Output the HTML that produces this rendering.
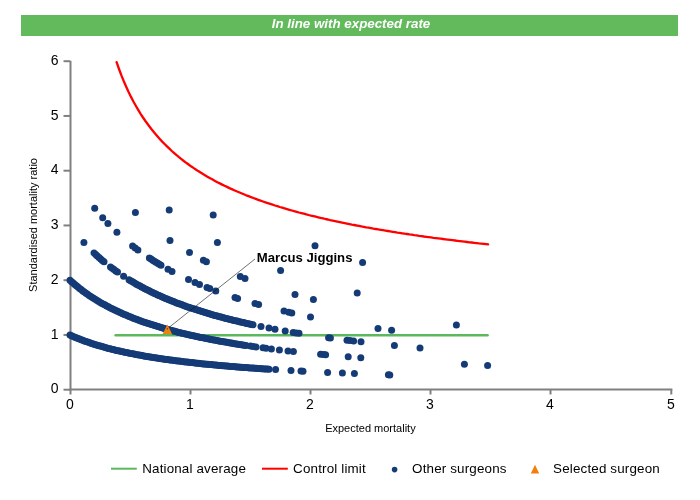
<!DOCTYPE html>
<html><head><meta charset="utf-8"><title>Funnel plot</title>
<style>
html,body{margin:0;padding:0;background:#fff;}
body{width:700px;height:500px;overflow:hidden;position:relative;font-family:"Liberation Sans",Arial,sans-serif;}
.banner{position:absolute;left:21px;top:15px;width:657px;height:21px;background:#62ba5c;color:#fff;font-weight:bold;font-style:italic;font-size:13.33px;line-height:18px;text-align:center;padding-left:3px;box-sizing:border-box;}
svg{position:absolute;left:0;top:0;}
svg text{font-family:"Liberation Sans",Arial,sans-serif;}
</style></head><body>
<div class="banner">In line with expected rate</div>
<svg width="700" height="500" viewBox="0 0 700 500">
<g stroke="#808080" stroke-width="2" fill="none"><path d="M70.5 60.7V390.3"/><path d="M69.5 389.5H672.3"/></g>
<g stroke="#808080" stroke-width="2" fill="none"><path d="M63.5 389.70H70"/><path d="M63.5 334.95H70"/><path d="M63.5 280.20H70"/><path d="M63.5 225.45H70"/><path d="M63.5 170.70H70"/><path d="M63.5 115.95H70"/><path d="M63.5 61.20H70"/><path d="M70.5 389V394.5"/><path d="M190.5 389V394.5"/><path d="M310.5 389V394.5"/><path d="M430.5 389V394.5"/><path d="M550.5 389V394.5"/><path d="M671.3 389V394.5"/></g>
<g font-size="14" fill="#000"><text x="58.5" y="393.3" text-anchor="end">0</text><text x="58.5" y="338.6" text-anchor="end">1</text><text x="58.5" y="283.8" text-anchor="end">2</text><text x="58.5" y="229.1" text-anchor="end">3</text><text x="58.5" y="174.3" text-anchor="end">4</text><text x="58.5" y="119.5" text-anchor="end">5</text><text x="58.5" y="64.8" text-anchor="end">6</text><text x="70.0" y="409" text-anchor="middle">0</text><text x="190.0" y="409" text-anchor="middle">1</text><text x="310.0" y="409" text-anchor="middle">2</text><text x="430.0" y="409" text-anchor="middle">3</text><text x="550.0" y="409" text-anchor="middle">4</text><text x="670.8" y="409" text-anchor="middle">5</text></g>
<text x="370.4" y="431.5" font-size="11" fill="#000" text-anchor="middle">Expected mortality</text>
<text transform="translate(36.6,225) rotate(-90)" font-size="11" fill="#000" text-anchor="middle">Standardised mortality ratio</text>
<path d="M115.6 335.2H487.6" stroke="#5cb85c" stroke-width="2.4" stroke-linecap="round" fill="none"/>
<path d="M116.6 62.2 L119.0 69.0 L121.4 75.4 L123.8 81.3 L126.2 86.8 L128.6 92.0 L131.0 96.9 L133.4 101.5 L135.8 105.8 L138.2 109.9 L140.6 113.8 L143.0 117.5 L145.4 121.0 L147.8 124.3 L150.2 127.5 L152.6 130.6 L155.0 133.5 L157.4 136.3 L159.8 139.0 L162.2 141.6 L164.6 144.0 L167.0 146.4 L169.4 148.7 L171.8 151.0 L174.2 153.1 L176.6 155.2 L179.0 157.2 L181.4 159.1 L183.8 161.0 L186.2 162.8 L188.6 164.5 L191.0 166.3 L193.4 167.9 L195.8 169.5 L198.2 171.1 L200.6 172.6 L203.0 174.1 L205.4 175.5 L207.8 176.9 L210.2 178.3 L212.6 179.6 L215.0 180.9 L217.4 182.2 L219.8 183.4 L222.2 184.6 L224.6 185.8 L227.0 186.9 L229.4 188.1 L231.8 189.1 L234.2 190.2 L236.6 191.3 L239.0 192.3 L241.4 193.3 L243.8 194.3 L246.2 195.3 L248.6 196.2 L251.0 197.1 L253.4 198.0 L255.8 198.9 L258.2 199.8 L260.6 200.7 L263.0 201.5 L265.4 202.3 L267.8 203.1 L270.2 203.9 L272.6 204.7 L275.0 205.5 L277.4 206.2 L279.8 207.0 L282.2 207.7 L284.6 208.4 L287.0 209.1 L289.4 209.8 L291.8 210.5 L294.2 211.2 L296.6 211.8 L299.0 212.5 L301.4 213.1 L303.8 213.7 L306.2 214.3 L308.6 215.0 L311.0 215.6 L313.4 216.1 L315.8 216.7 L318.2 217.3 L320.6 217.9 L323.0 218.4 L325.4 219.0 L327.8 219.5 L330.2 220.1 L332.6 220.6 L335.0 221.1 L337.4 221.6 L339.8 222.1 L342.2 222.6 L344.6 223.1 L347.0 223.6 L349.4 224.1 L351.8 224.6 L354.2 225.0 L356.6 225.5 L359.0 225.9 L361.4 226.4 L363.8 226.8 L366.2 227.3 L368.6 227.7 L371.0 228.1 L373.4 228.6 L375.8 229.0 L378.2 229.4 L380.6 229.8 L383.0 230.2 L385.4 230.6 L387.8 231.0 L390.2 231.4 L392.6 231.8 L395.0 232.2 L397.4 232.6 L399.8 232.9 L402.2 233.3 L404.6 233.7 L407.0 234.0 L409.4 234.4 L411.8 234.7 L414.2 235.1 L416.6 235.4 L419.0 235.8 L421.4 236.1 L423.8 236.5 L426.2 236.8 L428.6 237.1 L431.0 237.4 L433.4 237.8 L435.8 238.1 L438.2 238.4 L440.6 238.7 L443.0 239.0 L445.4 239.3 L447.8 239.6 L450.2 239.9 L452.6 240.2 L455.0 240.5 L457.4 240.8 L459.8 241.1 L462.2 241.4 L464.6 241.7 L467.0 242.0 L469.4 242.3 L471.8 242.5 L474.2 242.8 L476.6 243.1 L479.0 243.4 L481.4 243.6 L483.8 243.9 L486.2 244.2 L488.1 244.4" stroke="#ff0000" stroke-width="2.3" stroke-linecap="round" stroke-linejoin="round" fill="none"/>
<g fill="#153b77"><circle cx="70.0" cy="335.1" r="3.5"/><circle cx="71.6" cy="335.8" r="3.5"/><circle cx="73.2" cy="336.5" r="3.5"/><circle cx="74.8" cy="337.2" r="3.5"/><circle cx="76.4" cy="337.8" r="3.5"/><circle cx="78.0" cy="338.5" r="3.5"/><circle cx="79.6" cy="339.1" r="3.5"/><circle cx="81.2" cy="339.7" r="3.5"/><circle cx="82.8" cy="340.3" r="3.5"/><circle cx="84.4" cy="340.9" r="3.5"/><circle cx="86.0" cy="341.5" r="3.5"/><circle cx="87.7" cy="342.1" r="3.5"/><circle cx="89.3" cy="342.6" r="3.5"/><circle cx="90.9" cy="343.2" r="3.5"/><circle cx="92.5" cy="343.7" r="3.5"/><circle cx="94.1" cy="344.2" r="3.5"/><circle cx="95.7" cy="344.7" r="3.5"/><circle cx="97.3" cy="345.2" r="3.5"/><circle cx="98.9" cy="345.7" r="3.5"/><circle cx="100.5" cy="346.1" r="3.5"/><circle cx="102.1" cy="346.6" r="3.5"/><circle cx="103.7" cy="347.1" r="3.5"/><circle cx="105.3" cy="347.5" r="3.5"/><circle cx="106.9" cy="347.9" r="3.5"/><circle cx="108.5" cy="348.4" r="3.5"/><circle cx="110.1" cy="348.8" r="3.5"/><circle cx="111.7" cy="349.2" r="3.5"/><circle cx="113.3" cy="349.6" r="3.5"/><circle cx="114.9" cy="350.0" r="3.5"/><circle cx="116.5" cy="350.4" r="3.5"/><circle cx="118.1" cy="350.7" r="3.5"/><circle cx="119.8" cy="351.1" r="3.5"/><circle cx="121.4" cy="351.5" r="3.5"/><circle cx="123.0" cy="351.8" r="3.5"/><circle cx="124.6" cy="352.2" r="3.5"/><circle cx="126.2" cy="352.5" r="3.5"/><circle cx="127.8" cy="352.8" r="3.5"/><circle cx="129.4" cy="353.2" r="3.5"/><circle cx="131.0" cy="353.5" r="3.5"/><circle cx="132.6" cy="353.8" r="3.5"/><circle cx="134.2" cy="354.1" r="3.5"/><circle cx="135.8" cy="354.4" r="3.5"/><circle cx="137.4" cy="354.7" r="3.5"/><circle cx="139.0" cy="355.0" r="3.5"/><circle cx="140.6" cy="355.3" r="3.5"/><circle cx="142.2" cy="355.6" r="3.5"/><circle cx="143.8" cy="355.9" r="3.5"/><circle cx="145.4" cy="356.2" r="3.5"/><circle cx="147.0" cy="356.5" r="3.5"/><circle cx="148.6" cy="356.7" r="3.5"/><circle cx="150.2" cy="357.0" r="3.5"/><circle cx="151.8" cy="357.3" r="3.5"/><circle cx="153.5" cy="357.5" r="3.5"/><circle cx="155.1" cy="357.8" r="3.5"/><circle cx="156.7" cy="358.0" r="3.5"/><circle cx="158.3" cy="358.3" r="3.5"/><circle cx="159.9" cy="358.5" r="3.5"/><circle cx="161.5" cy="358.7" r="3.5"/><circle cx="163.1" cy="359.0" r="3.5"/><circle cx="164.7" cy="359.2" r="3.5"/><circle cx="166.3" cy="359.4" r="3.5"/><circle cx="167.9" cy="359.6" r="3.5"/><circle cx="169.5" cy="359.9" r="3.5"/><circle cx="171.1" cy="360.1" r="3.5"/><circle cx="172.7" cy="360.3" r="3.5"/><circle cx="174.3" cy="360.5" r="3.5"/><circle cx="175.9" cy="360.7" r="3.5"/><circle cx="177.5" cy="360.9" r="3.5"/><circle cx="179.1" cy="361.1" r="3.5"/><circle cx="180.7" cy="361.3" r="3.5"/><circle cx="182.3" cy="361.5" r="3.5"/><circle cx="183.9" cy="361.7" r="3.5"/><circle cx="185.5" cy="361.9" r="3.5"/><circle cx="187.2" cy="362.1" r="3.5"/><circle cx="188.8" cy="362.3" r="3.5"/><circle cx="190.4" cy="362.5" r="3.5"/><circle cx="192.0" cy="362.6" r="3.5"/><circle cx="193.6" cy="362.8" r="3.5"/><circle cx="195.2" cy="363.0" r="3.5"/><circle cx="196.8" cy="363.2" r="3.5"/><circle cx="198.4" cy="363.3" r="3.5"/><circle cx="200.0" cy="363.5" r="3.5"/><circle cx="201.6" cy="363.7" r="3.5"/><circle cx="203.2" cy="363.9" r="3.5"/><circle cx="204.8" cy="364.0" r="3.5"/><circle cx="206.4" cy="364.2" r="3.5"/><circle cx="208.0" cy="364.3" r="3.5"/><circle cx="209.6" cy="364.5" r="3.5"/><circle cx="211.2" cy="364.6" r="3.5"/><circle cx="212.8" cy="364.8" r="3.5"/><circle cx="214.4" cy="365.0" r="3.5"/><circle cx="216.0" cy="365.1" r="3.5"/><circle cx="217.6" cy="365.3" r="3.5"/><circle cx="219.2" cy="365.4" r="3.5"/><circle cx="220.9" cy="365.5" r="3.5"/><circle cx="222.5" cy="365.7" r="3.5"/><circle cx="224.1" cy="365.8" r="3.5"/><circle cx="225.7" cy="366.0" r="3.5"/><circle cx="227.3" cy="366.1" r="3.5"/><circle cx="228.9" cy="366.2" r="3.5"/><circle cx="230.5" cy="366.4" r="3.5"/><circle cx="232.1" cy="366.5" r="3.5"/><circle cx="233.7" cy="366.6" r="3.5"/><circle cx="235.3" cy="366.8" r="3.5"/><circle cx="236.9" cy="366.9" r="3.5"/><circle cx="238.5" cy="367.0" r="3.5"/><circle cx="240.1" cy="367.2" r="3.5"/><circle cx="241.7" cy="367.3" r="3.5"/><circle cx="243.3" cy="367.4" r="3.5"/><circle cx="244.9" cy="367.5" r="3.5"/><circle cx="246.5" cy="367.6" r="3.5"/><circle cx="248.1" cy="367.8" r="3.5"/><circle cx="249.7" cy="367.9" r="3.5"/><circle cx="251.3" cy="368.0" r="3.5"/><circle cx="253.0" cy="368.1" r="3.5"/><circle cx="254.6" cy="368.2" r="3.5"/><circle cx="256.2" cy="368.3" r="3.5"/><circle cx="257.8" cy="368.5" r="3.5"/><circle cx="259.4" cy="368.6" r="3.5"/><circle cx="261.0" cy="368.7" r="3.5"/><circle cx="262.6" cy="368.8" r="3.5"/><circle cx="264.2" cy="368.9" r="3.5"/><circle cx="265.8" cy="369.0" r="3.5"/><circle cx="267.4" cy="369.1" r="3.5"/><circle cx="269.0" cy="369.2" r="3.5"/><circle cx="275.6" cy="369.6" r="3.5"/><circle cx="291.0" cy="370.5" r="3.5"/><circle cx="301.0" cy="371.1" r="3.5"/><circle cx="303.0" cy="371.2" r="3.5"/><circle cx="327.6" cy="372.4" r="3.5"/><circle cx="342.4" cy="373.1" r="3.5"/><circle cx="354.4" cy="373.6" r="3.5"/><circle cx="388.4" cy="374.8" r="3.5"/><circle cx="389.8" cy="374.9" r="3.5"/><circle cx="70.0" cy="280.3" r="3.5"/><circle cx="71.6" cy="281.7" r="3.5"/><circle cx="73.2" cy="283.1" r="3.5"/><circle cx="74.8" cy="284.5" r="3.5"/><circle cx="76.4" cy="285.8" r="3.5"/><circle cx="78.0" cy="287.1" r="3.5"/><circle cx="79.6" cy="288.4" r="3.5"/><circle cx="81.2" cy="289.6" r="3.5"/><circle cx="82.8" cy="290.9" r="3.5"/><circle cx="84.4" cy="292.0" r="3.5"/><circle cx="86.0" cy="293.2" r="3.5"/><circle cx="87.6" cy="294.3" r="3.5"/><circle cx="89.2" cy="295.4" r="3.5"/><circle cx="90.8" cy="296.5" r="3.5"/><circle cx="92.4" cy="297.5" r="3.5"/><circle cx="94.0" cy="298.6" r="3.5"/><circle cx="95.6" cy="299.6" r="3.5"/><circle cx="97.2" cy="300.5" r="3.5"/><circle cx="98.8" cy="301.5" r="3.5"/><circle cx="100.4" cy="302.4" r="3.5"/><circle cx="102.0" cy="303.4" r="3.5"/><circle cx="103.6" cy="304.3" r="3.5"/><circle cx="105.2" cy="305.1" r="3.5"/><circle cx="106.8" cy="306.0" r="3.5"/><circle cx="108.4" cy="306.8" r="3.5"/><circle cx="110.0" cy="307.7" r="3.5"/><circle cx="111.6" cy="308.5" r="3.5"/><circle cx="113.2" cy="309.3" r="3.5"/><circle cx="114.8" cy="310.1" r="3.5"/><circle cx="116.4" cy="310.8" r="3.5"/><circle cx="118.0" cy="311.6" r="3.5"/><circle cx="119.6" cy="312.3" r="3.5"/><circle cx="121.2" cy="313.0" r="3.5"/><circle cx="122.8" cy="313.8" r="3.5"/><circle cx="124.4" cy="314.5" r="3.5"/><circle cx="126.0" cy="315.1" r="3.5"/><circle cx="127.6" cy="315.8" r="3.5"/><circle cx="129.2" cy="316.5" r="3.5"/><circle cx="130.8" cy="317.1" r="3.5"/><circle cx="132.4" cy="317.8" r="3.5"/><circle cx="134.0" cy="318.4" r="3.5"/><circle cx="135.6" cy="319.0" r="3.5"/><circle cx="137.2" cy="319.6" r="3.5"/><circle cx="138.8" cy="320.2" r="3.5"/><circle cx="140.4" cy="320.8" r="3.5"/><circle cx="142.0" cy="321.4" r="3.5"/><circle cx="143.6" cy="321.9" r="3.5"/><circle cx="145.2" cy="322.5" r="3.5"/><circle cx="146.8" cy="323.0" r="3.5"/><circle cx="148.4" cy="323.6" r="3.5"/><circle cx="150.0" cy="324.1" r="3.5"/><circle cx="151.6" cy="324.6" r="3.5"/><circle cx="153.2" cy="325.1" r="3.5"/><circle cx="154.8" cy="325.6" r="3.5"/><circle cx="156.4" cy="326.1" r="3.5"/><circle cx="158.0" cy="326.6" r="3.5"/><circle cx="159.6" cy="327.1" r="3.5"/><circle cx="161.2" cy="327.6" r="3.5"/><circle cx="162.8" cy="328.1" r="3.5"/><circle cx="164.4" cy="328.5" r="3.5"/><circle cx="166.0" cy="329.0" r="3.5"/><circle cx="167.6" cy="329.4" r="3.5"/><circle cx="169.2" cy="329.9" r="3.5"/><circle cx="170.8" cy="330.3" r="3.5"/><circle cx="172.4" cy="330.7" r="3.5"/><circle cx="174.0" cy="331.1" r="3.5"/><circle cx="175.6" cy="331.6" r="3.5"/><circle cx="177.2" cy="332.0" r="3.5"/><circle cx="178.8" cy="332.4" r="3.5"/><circle cx="180.4" cy="332.8" r="3.5"/><circle cx="182.0" cy="333.2" r="3.5"/><circle cx="183.6" cy="333.6" r="3.5"/><circle cx="185.2" cy="333.9" r="3.5"/><circle cx="186.8" cy="334.3" r="3.5"/><circle cx="188.4" cy="334.7" r="3.5"/><circle cx="190.0" cy="335.1" r="3.5"/><circle cx="191.6" cy="335.4" r="3.5"/><circle cx="193.2" cy="335.8" r="3.5"/><circle cx="194.8" cy="336.1" r="3.5"/><circle cx="196.4" cy="336.5" r="3.5"/><circle cx="198.0" cy="336.8" r="3.5"/><circle cx="199.6" cy="337.2" r="3.5"/><circle cx="201.2" cy="337.5" r="3.5"/><circle cx="202.8" cy="337.8" r="3.5"/><circle cx="204.4" cy="338.1" r="3.5"/><circle cx="206.0" cy="338.5" r="3.5"/><circle cx="207.6" cy="338.8" r="3.5"/><circle cx="209.2" cy="339.1" r="3.5"/><circle cx="210.8" cy="339.4" r="3.5"/><circle cx="212.4" cy="339.7" r="3.5"/><circle cx="214.0" cy="340.0" r="3.5"/><circle cx="215.6" cy="340.3" r="3.5"/><circle cx="217.2" cy="340.6" r="3.5"/><circle cx="218.8" cy="340.9" r="3.5"/><circle cx="220.4" cy="341.2" r="3.5"/><circle cx="222.0" cy="341.5" r="3.5"/><circle cx="223.6" cy="341.8" r="3.5"/><circle cx="225.2" cy="342.1" r="3.5"/><circle cx="226.8" cy="342.3" r="3.5"/><circle cx="228.4" cy="342.6" r="3.5"/><circle cx="230.0" cy="342.9" r="3.5"/><circle cx="231.6" cy="343.1" r="3.5"/><circle cx="233.2" cy="343.4" r="3.5"/><circle cx="234.8" cy="343.7" r="3.5"/><circle cx="236.4" cy="343.9" r="3.5"/><circle cx="238.0" cy="344.2" r="3.5"/><circle cx="239.6" cy="344.4" r="3.5"/><circle cx="241.2" cy="344.7" r="3.5"/><circle cx="242.8" cy="344.9" r="3.5"/><circle cx="244.4" cy="345.2" r="3.5"/><circle cx="246.0" cy="345.4" r="3.5"/><circle cx="250.5" cy="346.1" r="3.5"/><circle cx="253.0" cy="346.4" r="3.5"/><circle cx="256.0" cy="346.9" r="3.5"/><circle cx="263.0" cy="347.8" r="3.5"/><circle cx="266.0" cy="348.2" r="3.5"/><circle cx="271.4" cy="348.9" r="3.5"/><circle cx="279.4" cy="349.9" r="3.5"/><circle cx="288.0" cy="350.9" r="3.5"/><circle cx="293.4" cy="351.5" r="3.5"/><circle cx="320.6" cy="354.3" r="3.5"/><circle cx="323.6" cy="354.6" r="3.5"/><circle cx="325.6" cy="354.8" r="3.5"/><circle cx="348.2" cy="356.8" r="3.5"/><circle cx="360.8" cy="357.8" r="3.5"/><circle cx="464.4" cy="364.3" r="3.5"/><circle cx="487.6" cy="365.4" r="3.5"/><circle cx="83.9" cy="242.6" r="3.5"/><circle cx="94.0" cy="252.9" r="3.5"/><circle cx="95.7" cy="254.5" r="3.5"/><circle cx="97.3" cy="256.0" r="3.5"/><circle cx="99.0" cy="257.5" r="3.5"/><circle cx="100.7" cy="259.0" r="3.5"/><circle cx="102.3" cy="260.4" r="3.5"/><circle cx="104.0" cy="261.8" r="3.5"/><circle cx="110.5" cy="267.0" r="3.5"/><circle cx="112.2" cy="268.3" r="3.5"/><circle cx="114.0" cy="269.6" r="3.5"/><circle cx="115.8" cy="270.9" r="3.5"/><circle cx="117.5" cy="272.1" r="3.5"/><circle cx="123.6" cy="276.3" r="3.5"/><circle cx="129.0" cy="279.7" r="3.5"/><circle cx="130.6" cy="280.7" r="3.5"/><circle cx="132.2" cy="281.6" r="3.5"/><circle cx="133.8" cy="282.5" r="3.5"/><circle cx="135.4" cy="283.5" r="3.5"/><circle cx="136.9" cy="284.4" r="3.5"/><circle cx="138.5" cy="285.3" r="3.5"/><circle cx="140.1" cy="286.1" r="3.5"/><circle cx="141.7" cy="287.0" r="3.5"/><circle cx="143.3" cy="287.8" r="3.5"/><circle cx="144.9" cy="288.7" r="3.5"/><circle cx="146.5" cy="289.5" r="3.5"/><circle cx="148.1" cy="290.3" r="3.5"/><circle cx="149.7" cy="291.1" r="3.5"/><circle cx="151.3" cy="291.9" r="3.5"/><circle cx="152.8" cy="292.6" r="3.5"/><circle cx="154.4" cy="293.4" r="3.5"/><circle cx="156.0" cy="294.1" r="3.5"/><circle cx="157.6" cy="294.9" r="3.5"/><circle cx="159.2" cy="295.6" r="3.5"/><circle cx="160.8" cy="296.3" r="3.5"/><circle cx="162.4" cy="297.0" r="3.5"/><circle cx="164.0" cy="297.7" r="3.5"/><circle cx="165.6" cy="298.4" r="3.5"/><circle cx="167.2" cy="299.0" r="3.5"/><circle cx="168.7" cy="299.7" r="3.5"/><circle cx="170.3" cy="300.3" r="3.5"/><circle cx="171.9" cy="301.0" r="3.5"/><circle cx="173.5" cy="301.6" r="3.5"/><circle cx="175.1" cy="302.2" r="3.5"/><circle cx="176.7" cy="302.9" r="3.5"/><circle cx="178.3" cy="303.5" r="3.5"/><circle cx="179.9" cy="304.1" r="3.5"/><circle cx="181.5" cy="304.6" r="3.5"/><circle cx="183.1" cy="305.2" r="3.5"/><circle cx="184.6" cy="305.8" r="3.5"/><circle cx="186.2" cy="306.4" r="3.5"/><circle cx="187.8" cy="306.9" r="3.5"/><circle cx="189.4" cy="307.5" r="3.5"/><circle cx="191.0" cy="308.0" r="3.5"/><circle cx="192.6" cy="308.6" r="3.5"/><circle cx="194.2" cy="309.1" r="3.5"/><circle cx="195.8" cy="309.6" r="3.5"/><circle cx="197.4" cy="310.1" r="3.5"/><circle cx="198.9" cy="310.6" r="3.5"/><circle cx="200.5" cy="311.1" r="3.5"/><circle cx="202.1" cy="311.6" r="3.5"/><circle cx="203.7" cy="312.1" r="3.5"/><circle cx="205.3" cy="312.6" r="3.5"/><circle cx="206.9" cy="313.1" r="3.5"/><circle cx="208.5" cy="313.5" r="3.5"/><circle cx="210.1" cy="314.0" r="3.5"/><circle cx="211.7" cy="314.5" r="3.5"/><circle cx="213.3" cy="314.9" r="3.5"/><circle cx="214.8" cy="315.4" r="3.5"/><circle cx="216.4" cy="315.8" r="3.5"/><circle cx="218.0" cy="316.3" r="3.5"/><circle cx="219.6" cy="316.7" r="3.5"/><circle cx="221.2" cy="317.1" r="3.5"/><circle cx="222.8" cy="317.5" r="3.5"/><circle cx="224.4" cy="318.0" r="3.5"/><circle cx="226.0" cy="318.4" r="3.5"/><circle cx="227.6" cy="318.8" r="3.5"/><circle cx="229.2" cy="319.2" r="3.5"/><circle cx="230.7" cy="319.6" r="3.5"/><circle cx="232.3" cy="320.0" r="3.5"/><circle cx="233.9" cy="320.4" r="3.5"/><circle cx="235.5" cy="320.8" r="3.5"/><circle cx="237.1" cy="321.1" r="3.5"/><circle cx="238.7" cy="321.5" r="3.5"/><circle cx="240.3" cy="321.9" r="3.5"/><circle cx="241.9" cy="322.3" r="3.5"/><circle cx="243.5" cy="322.6" r="3.5"/><circle cx="245.1" cy="323.0" r="3.5"/><circle cx="246.6" cy="323.4" r="3.5"/><circle cx="248.2" cy="323.7" r="3.5"/><circle cx="249.8" cy="324.1" r="3.5"/><circle cx="251.4" cy="324.4" r="3.5"/><circle cx="253.0" cy="324.8" r="3.5"/><circle cx="261.0" cy="326.4" r="3.5"/><circle cx="269.0" cy="328.0" r="3.5"/><circle cx="275.0" cy="329.2" r="3.5"/><circle cx="285.2" cy="331.0" r="3.5"/><circle cx="293.2" cy="332.4" r="3.5"/><circle cx="296.2" cy="332.9" r="3.5"/><circle cx="299.0" cy="333.3" r="3.5"/><circle cx="328.6" cy="337.7" r="3.5"/><circle cx="330.4" cy="338.0" r="3.5"/><circle cx="347.0" cy="340.2" r="3.5"/><circle cx="350.0" cy="340.5" r="3.5"/><circle cx="353.6" cy="341.0" r="3.5"/><circle cx="361.0" cy="341.8" r="3.5"/><circle cx="394.4" cy="345.4" r="3.5"/><circle cx="420.0" cy="347.9" r="3.5"/><circle cx="94.7" cy="208.2" r="3.5"/><circle cx="102.7" cy="217.7" r="3.5"/><circle cx="107.9" cy="223.4" r="3.5"/><circle cx="116.9" cy="232.3" r="3.5"/><circle cx="132.6" cy="245.9" r="3.5"/><circle cx="135.2" cy="247.9" r="3.5"/><circle cx="137.9" cy="249.9" r="3.5"/><circle cx="149.4" cy="258.0" r="3.5"/><circle cx="151.1" cy="259.1" r="3.5"/><circle cx="152.7" cy="260.2" r="3.5"/><circle cx="154.4" cy="261.2" r="3.5"/><circle cx="156.0" cy="262.2" r="3.5"/><circle cx="157.7" cy="263.3" r="3.5"/><circle cx="159.3" cy="264.3" r="3.5"/><circle cx="161.0" cy="265.3" r="3.5"/><circle cx="168.0" cy="269.2" r="3.5"/><circle cx="172.0" cy="271.4" r="3.5"/><circle cx="188.5" cy="279.6" r="3.5"/><circle cx="195.0" cy="282.5" r="3.5"/><circle cx="199.5" cy="284.5" r="3.5"/><circle cx="207.0" cy="287.5" r="3.5"/><circle cx="209.8" cy="288.6" r="3.5"/><circle cx="215.8" cy="290.9" r="3.5"/><circle cx="235.0" cy="297.6" r="3.5"/><circle cx="237.6" cy="298.4" r="3.5"/><circle cx="255.0" cy="303.6" r="3.5"/><circle cx="258.6" cy="304.6" r="3.5"/><circle cx="284.0" cy="311.1" r="3.5"/><circle cx="288.8" cy="312.2" r="3.5"/><circle cx="291.8" cy="312.9" r="3.5"/><circle cx="310.5" cy="316.9" r="3.5"/><circle cx="378.0" cy="328.4" r="3.5"/><circle cx="391.6" cy="330.3" r="3.5"/><circle cx="135.4" cy="212.6" r="3.5"/><circle cx="170.0" cy="240.5" r="3.5"/><circle cx="189.5" cy="252.6" r="3.5"/><circle cx="203.4" cy="260.2" r="3.5"/><circle cx="206.4" cy="261.7" r="3.5"/><circle cx="240.3" cy="276.6" r="3.5"/><circle cx="245.0" cy="278.4" r="3.5"/><circle cx="295.0" cy="294.6" r="3.5"/><circle cx="313.4" cy="299.4" r="3.5"/><circle cx="456.4" cy="324.9" r="3.5"/><circle cx="169.2" cy="210.0" r="3.5"/><circle cx="217.4" cy="242.4" r="3.5"/><circle cx="280.6" cy="270.6" r="3.5"/><circle cx="357.2" cy="293.0" r="3.5"/><circle cx="213.2" cy="215.1" r="3.5"/><circle cx="315.0" cy="245.8" r="3.5"/><circle cx="362.6" cy="262.4" r="3.5"/></g>
<path d="M167.3 328.8L255 259" stroke="#111" stroke-width="0.6" fill="none"/>
<path d="M167.4 324.4L172.1 334H162.6Z" fill="#f07f0c"/>
<circle cx="167.3" cy="328.8" r="0.6" fill="#222"/>
<text x="256.8" y="261.7" font-size="13.15" font-weight="bold" fill="#000">Marcus Jiggins</text>
<g font-size="13.4" letter-spacing="0.16" fill="#000">
<path d="M111 468.7H136.8" stroke="#5cb85c" stroke-width="2" fill="none"/>
<text x="142.2" y="473">National average</text>
<path d="M262 468.7H287.8" stroke="#ff0000" stroke-width="2" fill="none"/>
<text x="293.1" y="473">Control limit</text>
<circle cx="394.6" cy="469.6" r="2.8" fill="#153b77"/>
<text x="412.1" y="473">Other surgeons</text>
<path d="M535 464.8L539.2 473.6H530.8Z" fill="#f07f0c"/>
<text x="553.1" y="473">Selected surgeon</text>
</g>
</svg>
</body></html>
